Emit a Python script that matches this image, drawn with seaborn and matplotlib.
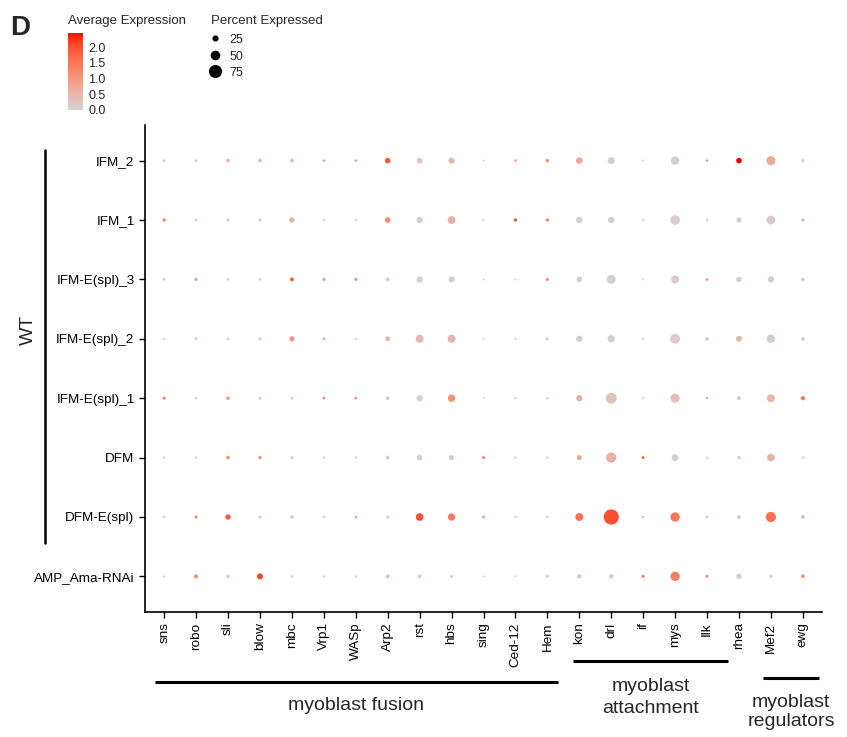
import numpy as np
import pandas as pd
import seaborn as sns
import matplotlib.pyplot as plt
from matplotlib.colors import ListedColormap, Normalize, to_rgb
from matplotlib.cm import ScalarMappable
from matplotlib.lines import Line2D
import matplotlib.transforms as mtransforms

# 1. DATA
genes = ["sns", "robo", "sli", "blow", "mbc", "Vrp1", "WASp", "Arp2", "rst", "hbs",
         "sing", "Ced-12", "Hem", "kon", "drl", "if", "mys", "Ilk", "rhea", "Mef2", "ewg"]
cell_types = ["IFM_2", "IFM_1", "IFM-E(spl)_3", "IFM-E(spl)_2", "IFM-E(spl)_1",
              "DFM", "DFM-E(spl)", "AMP_Ama-RNAi"]

# percent of cells expressing, one list per cell type (top to bottom)
pct_expressed = [
    [10, 10, 18, 18, 18, 10, 10, 32, 32, 35, 5, 10, 14, 38, 43, 6, 52, 10, 32, 56, 15],
    [13, 10, 14, 14, 30, 8, 8, 32, 36, 48, 6, 15, 15, 38, 38, 6, 60, 10, 28, 55, 16],
    [10, 12, 10, 10, 18, 12, 12, 20, 36, 34, 5, 6, 13, 32, 55, 5, 48, 12, 30, 36, 14],
    [8, 12, 10, 12, 28, 10, 8, 26, 48, 48, 5, 8, 12, 36, 44, 6, 62, 13, 34, 52, 18],
    [13, 10, 18, 12, 12, 10, 10, 18, 36, 44, 5, 8, 10, 36, 70, 6, 56, 10, 20, 48, 22],
    [8, 8, 18, 16, 14, 8, 6, 18, 32, 28, 10, 8, 8, 26, 64, 12, 40, 8, 14, 46, 8],
    [8, 14, 30, 12, 16, 8, 10, 14, 46, 44, 10, 8, 8, 48, 100, 8, 58, 8, 20, 64, 18],
    [6, 20, 18, 34, 10, 8, 8, 18, 18, 12, 5, 6, 12, 24, 24, 12, 58, 12, 30, 14, 18],
]
# average expression
avg_expression = [
    [0.1, 0.1, 0.5, 0.4, 0.4, 0.9, 0.8, 1.9, 0.3, 0.5, 0.1, 1.0, 1.3, 0.8, 0.1, 0.1, 0.1, 0.9, 2.45, 0.7, 0.1],
    [1.6, 0.1, 0.1, 0.1, 0.6, 0.05, 0.1, 1.2, 0.1, 0.6, 0.1, 2.0, 1.2, 0.1, 0.1, 0.1, 0.1, 0.1, 0.1, 0.1, 0.5],
    [0.1, 1.2, 0.1, 0.1, 2.0, 1.2, 1.3, 0.1, 0.1, 0.1, 0.1, 0.1, 1.3, 0.1, 0.05, 0.1, 0.1, 1.0, 0.1, 0.1, 0.4],
    [0.1, 0.1, 0.1, 0.1, 1.1, 0.9, 0.1, 0.5, 0.5, 0.5, 0.1, 0.1, 0.1, 0.1, 0.1, 0.1, 0.1, 0.6, 0.5, 0.1, 0.15],
    [1.4, 0.1, 0.9, 0.1, 0.1, 1.4, 1.3, 0.1, 0.1, 1.1, 0.1, 0.1, 0.1, 0.6, 0.3, 0.1, 0.4, 0.6, 0.1, 0.5, 1.5],
    [0.1, 0.1, 1.0, 1.0, 0.1, 0.1, 0.1, 0.1, 0.1, 0.1, 1.8, 0.1, 0.1, 0.8, 0.6, 1.8, 0.1, 0.1, 0.1, 0.6, 0.1],
    [0.1, 1.3, 1.9, 0.1, 0.1, 0.1, 1.0, 0.1, 2.0, 1.4, 1.1, 0.1, 0.1, 1.6, 2.0, 0.5, 1.5, 0.4, 0.1, 1.6, 0.5],
    [0.1, 1.2, 0.1, 2.1, 0.1, 0.1, 0.1, 0.4, 0.1, 0.1, 0.1, 0.1, 0.1, 0.1, 0.1, 1.6, 1.4, 1.2, 0.1, 0.1, 1.1],
]
size_breaks = [25, 50, 75]
color_breaks = [0.0, 0.5, 1.0, 1.5, 2.0]
expr_max = 2.45

# gene groups: (label, first gene, last gene)
groups = [("myoblast fusion", "sns", "Hem"),
          ("myoblast\nattachment", "kon", "rhea"),
          ("myoblast\nregulators", "Mef2", "ewg")]

# long format table
df = pd.DataFrame([
    {"cell": c, "gene": g, "pct": pct_expressed[i][j], "expr": avg_expression[i][j]}
    for i, c in enumerate(cell_types) for j, g in enumerate(genes)
])
# dot diameter grows linearly with percent (small offset so tiny dots stay visible)
size_offset = 8.6
df["rad_sq"] = (df["pct"] + size_offset) ** 2
rad_top = (100 + size_offset) ** 2
smax = 0.01016 * rad_top  # marker area (pt^2) at 100 percent


# grey -> red gradient interpolated in CIELAB (like ggplot's scale_colour_gradient)
def rgb_to_lab(rgb):
    c = np.asarray(rgb, dtype=float)
    c = np.where(c > 0.04045, ((c + 0.055) / 1.055) ** 2.4, c / 12.92)
    m = np.array([[0.4124, 0.3576, 0.1805], [0.2126, 0.7152, 0.0722], [0.0193, 0.1192, 0.9505]])
    xyz = m @ c / np.array([0.95047, 1.0, 1.08883])
    f = np.where(xyz > 0.008856, np.cbrt(xyz), 7.787 * xyz + 16 / 116)
    return np.array([116 * f[1] - 16, 500 * (f[0] - f[1]), 200 * (f[1] - f[2])])


def lab_to_rgb(lab):
    L, a, b = lab
    fy = (L + 16) / 116
    f = np.array([fy + a / 500, fy, fy - b / 200])
    xyz = np.where(f ** 3 > 0.008856, f ** 3, (f - 16 / 116) / 7.787) * np.array([0.95047, 1.0, 1.08883])
    m = np.array([[3.2406, -1.5372, -0.4986], [-0.9689, 1.8758, 0.0415], [0.0557, -0.2040, 1.0570]])
    c = m @ xyz
    c = np.where(c > 0.0031308, 1.055 * np.clip(c, 0, None) ** (1 / 2.4) - 0.055, 12.92 * c)
    return np.clip(c, 0, 1)


lab_lo, lab_hi = rgb_to_lab(to_rgb("lightgrey")), rgb_to_lab(to_rgb("red"))
cmap = ListedColormap([lab_to_rgb(lab_lo + t * (lab_hi - lab_lo)) for t in np.linspace(0, 1, 256)])
norm = Normalize(0, expr_max)

# 2. PLOT
sns.set_style("white")
plt.rcParams["font.family"] = ["Liberation Sans", "DejaVu Sans"]

fig = plt.figure(figsize=(8.47, 7.37), dpi=100)
ax = fig.add_axes([0.1712, 0.1696, 0.7993, 0.6608])

sns.scatterplot(data=df, x="gene", y="cell", hue="expr", palette=cmap, hue_norm=norm,
                size="rad_sq", sizes=(0, smax), size_norm=(0, rad_top),
                linewidth=0, legend=False, ax=ax)

ax.set_xlim(-0.6, len(genes) - 1 + 0.6)
ax.set_ylim(len(cell_types) - 1 + 0.6, -0.6)
ax.set_xlabel("")
ax.set_ylabel("")
sns.despine(ax=ax)
for s in ["left", "bottom"]:
    ax.spines[s].set_color("black")
    ax.spines[s].set_linewidth(1.2)
ax.tick_params(axis="both", which="both", length=4, width=1, color="black",
               labelsize=9.7, labelcolor="black", left=True, bottom=True)
ax.tick_params(axis="x", labelrotation=90)

# 3. GENE GROUP BRACKETS
trans = mtransforms.blended_transform_factory(ax.transData, ax.transAxes)
line_y = {"myoblast fusion": -0.1437, "myoblast\nattachment": -0.1006, "myoblast\nregulators": -0.1355}
text_y = {"myoblast fusion": -0.193, "myoblast\nattachment": -0.1755, "myoblast\nregulators": -0.205}
spacing = {"myoblast fusion": 1.15, "myoblast\nattachment": 1.35, "myoblast\nregulators": 1.2}
pads = {"myoblast fusion": (-0.3, 0.32), "myoblast\nattachment": (-0.2, -0.34), "myoblast\nregulators": (-0.25, 0.5)}
for label, g0, g1 in groups:
    x0 = genes.index(g0) + pads[label][0]
    x1 = genes.index(g1) + pads[label][1]
    ax.plot([x0, x1], [line_y[label]] * 2, color="black", lw=2.2, transform=trans,
            clip_on=False, solid_capstyle="butt")
    ax.text((x0 + x1) / 2, text_y[label], label, transform=trans, ha="center",
            va="center", fontsize=14, linespacing=spacing[label])

# 4. WT BRACKET + PANEL LETTER
fig.add_artist(Line2D([0.0531, 0.0531], [0.2632, 0.7965], color="black", lw=1.8))
fig.text(0.033, 0.552, "WT", rotation=90, ha="center", va="center", fontsize=14)
fig.text(0.012, 0.962, "D", ha="left", va="center", fontsize=20, fontweight="bold")

# 5. LEGENDS
cax = fig.add_axes([0.0803, 0.8508, 0.0177, 0.1045])
cb = fig.colorbar(ScalarMappable(norm=norm, cmap=cmap), cax=cax, ticks=color_breaks)
cb.outline.set_visible(False)
cb.ax.tick_params(length=3, width=0.8, color="white", direction="in", labelsize=9, pad=4)
cb.ax.set_yticklabels([f"{v:.1f}" for v in color_breaks])
fig.text(0.0803, 0.972, "Average Expression", ha="left", va="center", fontsize=9.5)

fig.text(0.249, 0.972, "Percent Expressed", ha="left", va="center", fontsize=9.5)
handles = [Line2D([], [], linestyle="", marker="o", color="black",
                  markersize=np.sqrt(smax) * (b + size_offset) / (100 + size_offset))
           for b in size_breaks]
fig.legend(handles, [str(b) for b in size_breaks],
           loc="upper left", bbox_to_anchor=(0.247, 0.955), frameon=False,
           fontsize=9, handlelength=1.0, handletextpad=0.6, handleheight=1.1,
           labelspacing=0.25, borderaxespad=0, borderpad=0)

fig.savefig("out.png", dpi=100)
